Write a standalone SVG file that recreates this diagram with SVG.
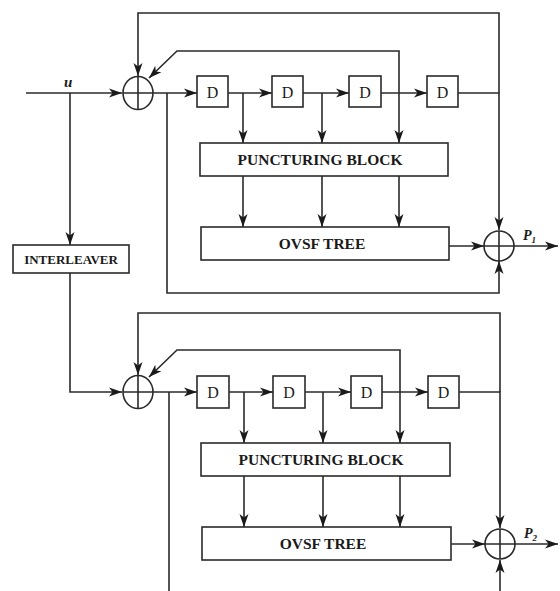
<svg xmlns="http://www.w3.org/2000/svg" width="560" height="591" viewBox="0 0 560 591">
<style>
.ln{fill:none;stroke:#2a2a2a;stroke-width:1.6}
.ar{fill:none;stroke:#2a2a2a;stroke-width:1.6;marker-end:url(#ah)}
.box{fill:#fff;stroke:#2a2a2a;stroke-width:1.6}
.sum{fill:none;stroke:#2a2a2a;stroke-width:1.6}
.lbl{font-family:"Liberation Serif","Times New Roman",serif;font-weight:bold;fill:#1a1a1a;text-anchor:middle}
.d{font-family:"Liberation Serif","Times New Roman",serif;font-size:16px;fill:#1a1a1a;text-anchor:middle}
.it{font-family:"Liberation Serif","Times New Roman",serif;font-weight:bold;font-style:italic;fill:#1a1a1a}
</style>
<defs>
<marker id="ah" markerUnits="userSpaceOnUse" markerWidth="14" markerHeight="10" refX="13" refY="5" orient="auto">
<path d="M0,0.5 L13,5 L0,9.5 L3.5,5 z" fill="#1a1a1a"/>
</marker>
</defs>
<rect width="560" height="591" fill="#fff"/>

<g id="connectors">
<!-- upper encoder -->
<path class="ar" d="M26,93 H122"/>
<path class="ar" d="M70,93 V245"/>
<path class="ar" d="M499,93 V13 H138 V76"/>
<path class="ar" d="M399,93 V51 H177 L149,78"/>
<path class="ar" d="M153,93 H197"/>
<path class="ar" d="M167,93 V293 H499 V261"/>
<path class="ar" d="M228,93 H272"/>
<path class="ar" d="M303,93 H349"/>
<path class="ar" d="M381,93 H427"/>
<path class="ar" d="M243,93 V143"/>
<path class="ar" d="M322,93 V143"/>
<path class="ar" d="M399,93 V143"/>
<path class="ar" d="M243,176 V227"/>
<path class="ar" d="M322,176 V227"/>
<path class="ar" d="M399,176 V227"/>
<path class="ar" d="M458,93 H499 V230"/>
<path class="ar" d="M449,246 H484"/>
<path class="ar" d="M514,246 H558"/>
<!-- lower encoder -->
<path class="ar" d="M70,273 V392 H122"/>
<path class="ar" d="M500,392 V313 H138 V375"/>
<path class="ar" d="M400,392 V350 H177 L149,377"/>
<path class="ar" d="M153,392 H197"/>
<path class="ln" d="M169,392 V591"/>
<path class="ar" d="M229,392 H273"/>
<path class="ar" d="M305,392 H351"/>
<path class="ar" d="M382,392 H428"/>
<path class="ar" d="M244,392 V443"/>
<path class="ar" d="M323,392 V443"/>
<path class="ar" d="M400,392 V443"/>
<path class="ar" d="M244,476 V527"/>
<path class="ar" d="M323,476 V527"/>
<path class="ar" d="M400,476 V527"/>
<path class="ar" d="M459,392 H500 V528"/>
<path class="ar" d="M451,544 H485"/>
<path class="ar" d="M515,544 H558"/>
<path class="ar" d="M500,591 V560"/>
</g>

<g id="label-u"><text class="it" x="64" y="87" font-size="15">u</text></g>

<g id="xor1">
<ellipse class="sum" cx="138" cy="93" rx="15" ry="16.5"/>
<path class="ln" d="M123,93 H153 M138,76.5 V109.5"/>
</g>
<g id="d1-1"><rect class="box" x="197" y="76" width="31" height="31"/><text class="d" x="212.5" y="97.5">D</text></g>
<g id="d1-2"><rect class="box" x="272" y="76" width="31" height="31"/><text class="d" x="287.5" y="97.5">D</text></g>
<g id="d1-3"><rect class="box" x="349" y="76" width="32" height="31"/><text class="d" x="365" y="97.5">D</text></g>
<g id="d1-4"><rect class="box" x="427" y="76" width="31" height="31"/><text class="d" x="442.5" y="97.5">D</text></g>
<g id="punct1"><rect class="box" x="200" y="143" width="248" height="33"/><text class="lbl" x="320" y="165" font-size="15.5">PUNCTURING BLOCK</text></g>
<g id="ovsf1"><rect class="box" x="201" y="227" width="248" height="33"/><text class="lbl" x="322" y="249" font-size="15.5">OVSF TREE</text></g>
<g id="sum1">
<circle class="sum" cx="499" cy="246" r="15"/>
<path class="ln" d="M484,246 H514 M499,231 V261"/>
</g>
<g id="label-p1"><text class="it" x="523" y="240" font-size="14">P<tspan font-size="9" dy="3">1</tspan></text></g>

<g id="interleaver"><rect class="box" x="13" y="245" width="116" height="28"/><text class="lbl" x="71" y="264" font-size="13">INTERLEAVER</text></g>

<g id="xor2">
<ellipse class="sum" cx="138" cy="392" rx="15" ry="16.5"/>
<path class="ln" d="M123,392 H153 M138,375.5 V408.5"/>
</g>
<g id="d2-1"><rect class="box" x="197" y="376" width="32" height="32"/><text class="d" x="213" y="397.5">D</text></g>
<g id="d2-2"><rect class="box" x="273" y="376" width="32" height="32"/><text class="d" x="289" y="397.5">D</text></g>
<g id="d2-3"><rect class="box" x="351" y="376" width="31" height="32"/><text class="d" x="366.5" y="397.5">D</text></g>
<g id="d2-4"><rect class="box" x="428" y="376" width="31" height="32"/><text class="d" x="443.5" y="397.5">D</text></g>
<g id="punct2"><rect class="box" x="201" y="443" width="249" height="33"/><text class="lbl" x="321" y="465" font-size="15.5">PUNCTURING BLOCK</text></g>
<g id="ovsf2"><rect class="box" x="202" y="527" width="249" height="33"/><text class="lbl" x="323" y="549" font-size="15.5">OVSF TREE</text></g>
<g id="sum2">
<circle class="sum" cx="500" cy="544" r="15"/>
<path class="ln" d="M485,544 H515 M500,529 V559"/>
</g>
<g id="label-p2"><text class="it" x="524" y="538" font-size="14">P<tspan font-size="9" dy="3">2</tspan></text></g>
</svg>
